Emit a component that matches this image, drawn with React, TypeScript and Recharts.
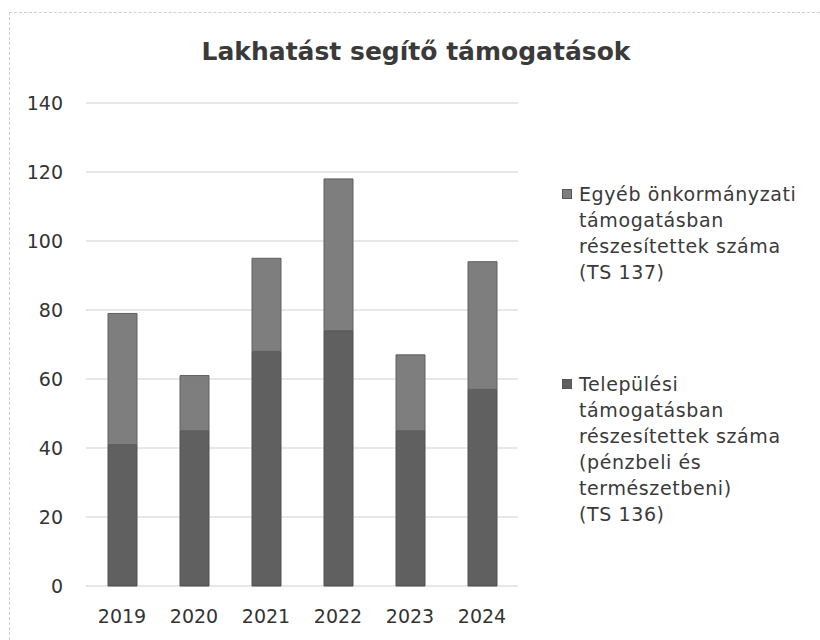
import { BarChart, Bar, XAxis, YAxis, CartesianGrid } from 'recharts';

const years = ['2019', '2020', '2021', '2022', '2023', '2024'];
// Települési támogatás (TS 136) - lower, darker segment
const telepulesi = [41, 45, 68, 74, 45, 57];
// Egyéb önkormányzati támogatás (TS 137) - upper, lighter segment
const egyeb = [38, 16, 27, 44, 22, 37];
const yTicks = [0, 20, 40, 60, 80, 100, 120, 140];

const egyebLines = ['Egyéb önkormányzati', 'támogatásban', 'részesítettek száma', '(TS 137)'];
const telepulesiLines = [
  'Települési',
  'támogatásban',
  'részesítettek száma',
  '(pénzbeli és',
  'természetbeni)',
  '(TS 136)',
];

const data = years.map((year, i) => ({
  year,
  telepulesi: telepulesi[i],
  egyeb: egyeb[i],
}));

const DARK = '#606060';
const LIGHT = '#7e7e7e';
const FONT = '"DejaVu Sans", sans-serif';

function LegendGroup({ color, lines, style }: { color: string; lines: string[]; style?: React.CSSProperties }) {
  return (
    <div style={{ position: 'relative', paddingLeft: 17, ...style }}>
      <span
        style={{
          position: 'absolute',
          left: 0,
          top: 8,
          width: 10,
          height: 10,
          backgroundColor: color,
          border: '1px solid #555',
          boxSizing: 'border-box',
        }}
      />
      {lines.map((l) => (
        <div key={l} style={{ height: 26, lineHeight: '26px', whiteSpace: 'nowrap' }}>
          {l}
        </div>
      ))}
    </div>
  );
}

export default function App() {
  return (
    <div
      style={{
        position: 'absolute',
        left: 0,
        top: 0,
        width: 820,
        height: 640,
        background: '#fff',
        fontFamily: FONT,
        overflow: 'hidden',
      }}
    >
      <div
        style={{
          position: 'absolute',
          left: 9,
          top: 12,
          right: 0,
          bottom: 0,
          borderTop: '1px dashed #cfcfcf',
          borderLeft: '1px dashed #cfcfcf',
        }}
      />
      <div
        style={{
          position: 'absolute',
          left: 6,
          top: 37,
          width: 820,
          textAlign: 'center',
          fontFamily: FONT,
          fontWeight: 'bold',
          fontSize: 25,
          lineHeight: '30px',
          color: '#3a3a3a',
        }}
      >
        Lakhatást segítő támogatások
      </div>
      <div
        style={{
          position: 'absolute',
          left: 562,
          top: 181,
          fontFamily: FONT,
          fontSize: 19,
          letterSpacing: 0.6,
          color: '#3a3a3a',
        }}
      >
        <LegendGroup color={LIGHT} lines={egyebLines} />
        <LegendGroup color={DARK} lines={telepulesiLines} style={{ marginTop: 86 }} />
      </div>
      <BarChart
        width={820}
        height={640}
        data={data}
        margin={{ top: 103, right: 302, bottom: 14, left: 16 }}
        style={{ position: 'absolute', left: 0, top: 0 }}
      >
        <CartesianGrid stroke="#cfcfcf" vertical={false} />
        <XAxis
          dataKey="year"
          axisLine={false}
          tickLine={false}
          tickSize={0}
          tickMargin={24}
          height={40}
          tick={{ fill: '#333', fontSize: 19, fontFamily: FONT }}
        />
        <YAxis
          domain={[0, 140]}
          ticks={yTicks}
          interval={0}
          axisLine={false}
          tickLine={false}
          tickSize={0}
          tickMargin={23}
          width={70}
          tick={{ fill: '#333', fontSize: 19, fontFamily: FONT }}
        />
        <Bar
          dataKey="telepulesi"
          stackId="a"
          fill={DARK}
          stroke="#505050"
          barSize={29}
          isAnimationActive={false}
        />
        <Bar
          dataKey="egyeb"
          stackId="a"
          fill={LIGHT}
          stroke="#606060"
          barSize={29}
          isAnimationActive={false}
        />
      </BarChart>
    </div>
  );
}
